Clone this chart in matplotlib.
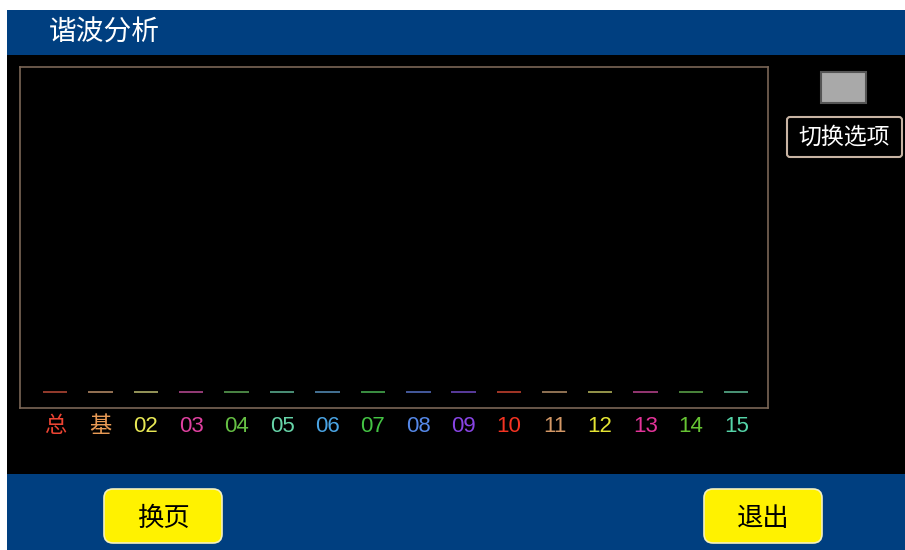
import numpy as np
import matplotlib
matplotlib.use('Agg')
import matplotlib.pyplot as plt
from matplotlib.patches import Rectangle, FancyBboxPatch

plt.rcParams['font.family'] = ['Noto Sans CJK SC', 'DejaVu Sans']

# harmonic orders and their (currently empty) magnitudes
orders = ['总', '基', '02', '03', '04', '05', '06', '07', '08', '09', '10', '11', '12', '13', '14', '15']
values = [0, 0, 0, 0, 0, 0, 0, 0, 0, 0, 0, 0, 0, 0, 0, 0]
label_colors = ['#ee4433', '#e89a55', '#e8e855', '#e040a0', '#66c044', '#66d4a8', '#4aa4e4', '#44c444',
                '#5588e8', '#8844e4', '#f43322', '#d49866', '#e4e433', '#e43399', '#66c433', '#55d4a8']
bar_colors = ['#a04030', '#a07a5a', '#a0a060', '#a04080', '#50904a', '#509a80', '#4a7aa0', '#409a48',
              '#4a60a8', '#6040a8', '#b03a2a', '#9a7a5a', '#a0a050', '#a03a7a', '#509040', '#50a080']

title = '谐波分析'
blue = '#003f80'

W, H = 905, 550
fig = plt.figure(figsize=(W / 100, H / 100), dpi=100)
fig.patch.set_facecolor('white')

# background layer in pixel coordinates
bg = fig.add_axes([0, 0, 1, 1])
bg.set_xlim(0, W)
bg.set_ylim(H, 0)
bg.axis('off')
bg.add_patch(Rectangle((7, 10), W - 7, 45, color=blue, lw=0))
bg.add_patch(Rectangle((7, 55), W - 7, 419, color='black', lw=0))
bg.add_patch(Rectangle((7, 474), W - 7, 76, color=blue, lw=0))
bg.text(49, 33, title, color='white', fontsize=20, va='center', ha='left')

# gray indicator and switch button on the right
bg.add_patch(Rectangle((821, 72), 45, 31, facecolor='#a9a9a9', edgecolor='#555555', lw=1.5))
bg.add_patch(FancyBboxPatch((787, 117), 115, 40, boxstyle='round,pad=0,rounding_size=3',
                            facecolor='black', edgecolor='#c8b4a4', lw=1.5))
bg.text(844.5, 137, '切换选项', color='white', fontsize=16.5, ha='center', va='center')

# bottom yellow buttons
for x0, txt in [(104, '换页'), (704, '退出')]:
    bg.add_patch(FancyBboxPatch((x0, 489), 118, 54, boxstyle='round,pad=0,rounding_size=9',
                                facecolor='#fff200', edgecolor='#f4f0c0', lw=1.2))
    bg.text(x0 + 59, 518, txt, color='black', fontsize=19, ha='center', va='center')

# the chart area
l, r, t, b = 20, 768, 67, 408
ax = fig.add_axes([l / W, 1 - b / H, (r - l) / W, (b - t) / H])
ax.set_facecolor('black')
for s in ax.spines.values():
    s.set_color('#7a6656')
    s.set_linewidth(1.2)

x = np.arange(len(orders))
ax.hlines(values, x - 0.27, x + 0.27, colors=bar_colors, lw=1.3)
ax.set_xlim(-0.77, 15.70)
ax.set_ylim(-4.9, 100)
ax.set_yticks([])
ax.set_xticks(x)
ax.set_xticklabels(orders, fontsize=16, family=['Liberation Sans', 'Noto Sans CJK SC'])
ax.tick_params(axis='x', length=0, pad=6)
for lab, c in zip(ax.get_xticklabels(), label_colors):
    lab.set_color(c)

fig.savefig('out.png', dpi=100, facecolor=fig.get_facecolor())
